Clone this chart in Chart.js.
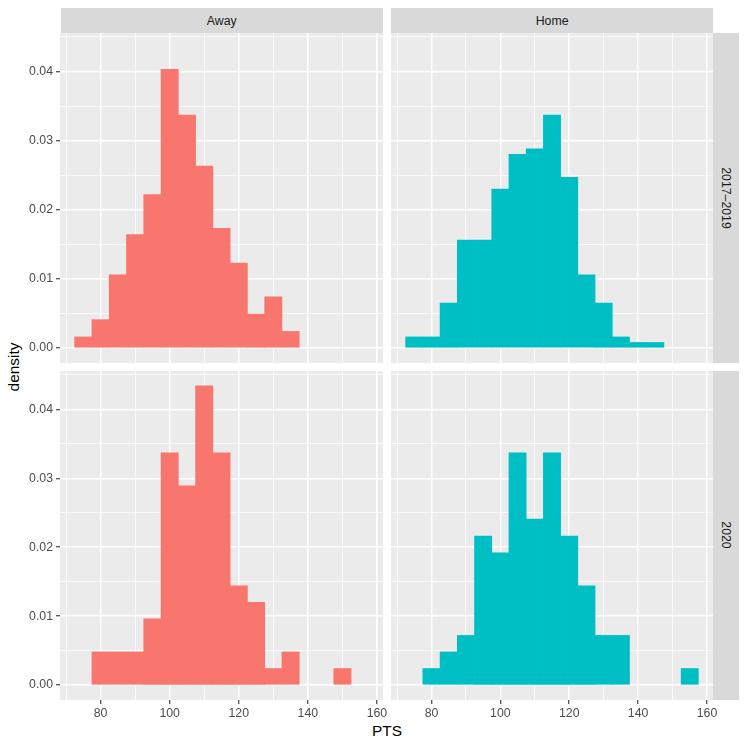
<!DOCTYPE html>
<html>
<head>
<meta charset="utf-8">
<script src="https://cdn.jsdelivr.net/npm/chart.js@4"></script>
<style>
  body { margin: 0; background: #fff; }
  #wrap { position: relative; width: 747px; height: 747px; overflow: hidden;
          font-family: "Liberation Sans", Arial, sans-serif; }
  canvas { position: absolute; }
  .strip { position: absolute; background: #D9D9D9; color: #1A1A1A; font-size: 12.3px; }
  .strip span { position: absolute; left: 50%; top: 50%; white-space: nowrap; }
  .top span { transform: translate(-50%, -50%); }
  .side span { transform: translate(-50%, -50%) rotate(90deg); }
  .title { position: absolute; font-size: 15.4px; color: #000; white-space: nowrap; }
</style>
</head>
<body>
<div id="wrap">
  <div class="strip top" style="left:60.5px;top:8px;width:322.5px;height:25.3px"><span>Away</span></div>
  <div class="strip top" style="left:391px;top:8px;width:322.3px;height:25.3px"><span>Home</span></div>
  <div class="strip side" style="left:713.3px;top:33.3px;width:25.7px;height:329.4px"><span>2017–2019</span></div>
  <div class="strip side" style="left:713.3px;top:370.7px;width:25.7px;height:329px"><span>2020</span></div>
  <div class="title" style="left:387px;top:731px;transform:translate(-50%,-50%)">PTS</div>
  <div class="title" style="left:14px;top:366.5px;transform:translate(-50%,-50%) rotate(-90deg)">density</div>

  <canvas id="c-away-1719" width="383" height="330" style="left:0;top:33px"></canvas>
  <canvas id="c-home-1719" width="322" height="330" style="left:391px;top:33px"></canvas>
  <canvas id="c-away-2020" width="395" height="359" style="left:0;top:371px"></canvas>
  <canvas id="c-home-2020" width="334" height="359" style="left:391px;top:371px"></canvas>
</div>

<script>
// bin centres (binwidth 5)
const bins = [75, 80, 85, 90, 95, 100, 105, 110, 115, 120, 125, 130, 135, 140, 145, 150, 155];

// density per bin
const away1719 = [0.0016, 0.0041, 0.0106, 0.0164, 0.0222, 0.0403, 0.0337, 0.0263, 0.0173, 0.0123, 0.0049, 0.0074, 0.0024, 0, 0, 0, 0];
const home1719 = [0.0016, 0.0016, 0.0065, 0.0156, 0.0156, 0.0230, 0.0280, 0.0288, 0.0337, 0.0247, 0.0106, 0.0065, 0.0016, 0.0008, 0.0008, 0, 0];
const away2020 = [0, 0.0048, 0.0048, 0.0048, 0.0096, 0.0337, 0.0289, 0.0434, 0.0337, 0.0144, 0.0120, 0.0024, 0.0048, 0, 0, 0.0024, 0];
const home2020 = [0, 0.0024, 0.0048, 0.0072, 0.0216, 0.0192, 0.0337, 0.0241, 0.0337, 0.0216, 0.0144, 0.0072, 0.0072, 0, 0, 0, 0.0024];

const xTickLabels = [80, 100, 120, 140, 160];
const yTickLabels = [0, 0.01, 0.02, 0.03, 0.04];

const AWAY = "#F8766D";
const HOME = "#00BFC4";
const FONT = { family: "'Liberation Sans', Arial, sans-serif", size: 12.3 };

const isMajorX = (v) => xTickLabels.includes(v);
const isMajorY = (v) => yTickLabels.some((t) => Math.abs(t - v) < 1e-9);

const panelBg = {
  id: "panelBg",
  beforeDraw: (chart) => {
    const { ctx, chartArea: a } = chart;
    ctx.save();
    ctx.fillStyle = "#EBEBEB";
    ctx.fillRect(a.left, a.top, a.right - a.left, a.bottom - a.top);
    ctx.restore();
  },
};

// no extra room for half tick labels: the panel fills the canvas
const no_padding = (s) => {
  s.paddingTop = 0;
  s.paddingBottom = 0;
  s.paddingLeft = 0;
  s.paddingRight = 0;
};

const get_x_scale = (showLabels) => ({
  type: "linear",
  min: 68.25,
  max: 161.75,
  offset: false,
  border: { display: false },
  grid: {
    offset: false,
    color: "#FFFFFF",
    lineWidth: (c) => (isMajorX(c.tick.value) ? 1.5 : 0.75),
    drawTicks: showLabels,
    tickLength: 4,
    tickColor: (c) => (isMajorX(c.tick.value) ? "#333333" : "rgba(0,0,0,0)"),
    tickWidth: 1.1,
  },
  ticks: {
    display: showLabels,
    stepSize: 10,
    includeBounds: false,
    maxRotation: 0,
    autoSkip: false,
    padding: 2,
    color: "#4D4D4D",
    font: FONT,
    callback: (v) => (isMajorX(v) ? String(v) : ""),
  },
  afterFit: (s) => {
    s.height = showLabels ? 30 : 0;
    no_padding(s);
  },
});

const get_y_scale = (showLabels) => ({
  type: "linear",
  min: -0.00217,
  max: 0.04557,
  border: { display: false },
  grid: {
    color: "#FFFFFF",
    lineWidth: (c) => (isMajorY(c.tick.value) ? 1.5 : 0.75),
    drawTicks: showLabels,
    tickLength: 4,
    tickColor: (c) => (isMajorY(c.tick.value) ? "#333333" : "rgba(0,0,0,0)"),
    tickWidth: 1.1,
  },
  ticks: {
    display: showLabels,
    stepSize: 0.005,
    includeBounds: false,
    padding: 3,
    color: "#4D4D4D",
    font: FONT,
    callback: (v) => (isMajorY(v) ? v.toFixed(2) : ""),
  },
  afterFit: (s) => {
    s.width = showLabels ? 60 : 0;
    no_padding(s);
  },
});

const draw_panel = (id, values, colour, showX, showY) => {
  return new Chart(document.getElementById(id), {
    type: "bar",
    data: {
      datasets: [
        {
          // empty bins are left out so no hairline is drawn for them
          data: bins.map((b, i) => ({ x: b, y: values[i] === 0 ? null : values[i] })),
          backgroundColor: colour,
          borderWidth: 0,
          barPercentage: 1,
          categoryPercentage: 1,
        },
      ],
    },
    options: {
      responsive: false,
      animation: false,
      // bottom row: room on the right so the "160" label is not cut
      layout: { padding: { top: 0, left: 0, bottom: 0, right: showX ? 12 : 0 } },
      plugins: { legend: { display: false }, tooltip: { enabled: false } },
      scales: {
        x: get_x_scale(showX),
        y: get_y_scale(showY),
      },
    },
    plugins: [panelBg],
  });
};

draw_panel("c-away-1719", away1719, AWAY, false, true);
draw_panel("c-home-1719", home1719, HOME, false, false);
draw_panel("c-away-2020", away2020, AWAY, true, true);
draw_panel("c-home-2020", home2020, HOME, true, false);
</script>
</body>
</html>
